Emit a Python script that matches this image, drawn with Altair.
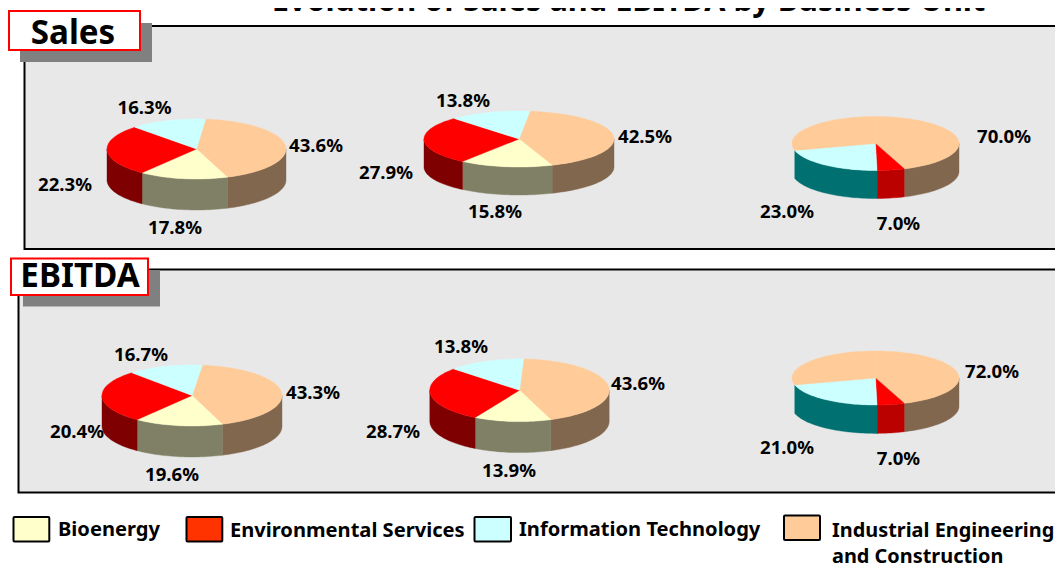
import math
import altair as alt
import pandas as pd

FONT = "Noto Sans"
OFF = 8  # page margin

units = ["Bioenergy", "Environmental Services", "Information Technology", "Industrial Engineering"]

# Shares as the slices are drawn in the picture, clockwise from each pie's start
sales_a = [42.8, 16.0, 27.5, 13.7]
sales_b = [42.5, 15.8, 27.9, 13.8]
sales_c = [44.4, 0.0, 5.3, 21.2, 29.1]
ebitda_a = [42.7, 15.9, 27.9, 13.5]
ebitda_b = [43.6, 13.9, 28.7, 13.8]
ebitda_c = [44.4, 0.0, 5.3, 21.2, 29.1]

top_colors = ["#FFCC99", "#FFFFCC", "#FF0000", "#CCFFFF", "#FFCC99"]
wall_colors = ["#82674F", "#808066", "#7E0000", "#007070", None]
wall_colors_c = ["#82674F", "#808066", "#BB0000", "#007070", None]

# name, shares, cx, cy, rx, ry, depth, start angle, wall colours
pies = [
    ("s1", sales_a, 196.5, 149, 89.5, 30, 31, 5.8, wall_colors),
    ("s2", sales_b, 519, 139, 95, 28, 28, 6.6, wall_colors),
    ("s3", sales_c, 875.5, 143.5, 83.5, 27, 28, 0, wall_colors_c),
    ("e1", ebitda_a, 192, 395.5, 90, 30.5, 31, 6.6, wall_colors),
    ("e2", ebitda_b, 519.5, 390.3, 89.7, 31.3, 31, 2.6, wall_colors),
    ("e3", ebitda_c, 875.5, 378, 83.5, 27, 28.4, 0, wall_colors_c),
]

label_text = ["16.3%", "43.6%", "22.3%", "17.8%", "13.8%", "42.5%", "27.9%", "15.8%",
              "70.0%", "23.0%", "7.0%", "16.7%", "43.3%", "20.4%", "19.6%", "13.8%",
              "43.6%", "28.7%", "13.9%", "72.0%", "21.0%", "7.0%"]
label_x = [144.5, 316, 65, 175, 463, 645, 386, 495, 1004, 787, 898.5,
           141, 313, 77, 172, 461, 638, 393, 509, 992, 787, 898.5]
label_y = [108, 146, 185, 228, 101, 137, 173, 212, 137, 212, 224,
           355, 393, 432, 475, 347, 384, 431.5, 471, 372, 448, 459]


def pt(t, rx, ry, dy=0.0):
    r = math.radians(t)
    return rx * math.sin(r), -ry * math.cos(r) + dy


def arc(a, b, rx, ry, dy=0.0):
    n = max(2, int(abs(b - a) / 2) + 1)
    return [pt(a + (b - a) * i / n, rx, ry, dy) for i in range(n + 1)]


def path(points):
    return "M" + "L".join(f"{x:.2f},{y:.2f}" for x, y in points) + "Z"


rows = []
for name, shares, cx, cy, rx, ry, depth, start, walls in pies:
    walls_rows, top_rows = [], []
    a = start
    for share, top, wall in zip(shares, top_colors, walls):
        b = a + share * 3.6
        if share > 0:
            top_rows.append(dict(x=cx, y=cy, color=top,
                                 d=path([(0, 0)] + arc(a, b, rx, ry))))
            lo, hi = max(a, 90), min(b, 270)
            if wall and lo < hi:
                walls_rows.append(dict(x=cx, y=cy, color=wall,
                                       d=path(arc(lo, hi, rx, ry) + arc(hi, lo, rx, ry, depth))))
        a = b
    rows += walls_rows + top_rows
slices = pd.DataFrame(rows)
slices["i"] = range(len(slices))

panels = pd.DataFrame(dict(x=[24.5, 18.5], x2=[1100, 1100], y=[26, 269.5], y2=[249, 492.5]))
shadows = pd.DataFrame(dict(x=[20, 23], x2=[152, 160], y=[23, 270], y2=[62, 306.5]))
tags = pd.DataFrame(dict(x=[9, 11], x2=[140, 148], y=[11, 258.5], y2=[50, 295]))
tag_text = pd.DataFrame(dict(t=["Sales", "EBITDA"], x=[73, 80], y=[33.5, 277]))
swatches = pd.DataFrame(dict(x=[13.5, 186.5, 474.5, 784], x2=[49.3, 222.3, 511, 820],
                             y=[517, 517, 517, 515.5], y2=[541.5, 541.5, 541.5, 540],
                             c=["#FFFFCC", "#FF3300", "#CCFFFF", "#FFCC99"]))
legend_text = pd.DataFrame(dict(t=units[:3] + ["Industrial Engineering", "and Construction"],
                                x=[58, 230, 519, 832, 832], y=[530, 530.5, 530, 530.5, 556.5],
                                fs=[20.1, 20.1, 20.1, 19.9, 19.9]))
labels = pd.DataFrame(dict(t=label_text, x=label_x, y=label_y))
title_df = pd.DataFrame(dict(t=["Evolution of Sales and EBITDA by Business Unit"], x=[628.5], y=[11]))

for df in (slices, panels, shadows, tags, swatches, tag_text, legend_text, labels, title_df):
    for c in ("x", "x2", "y", "y2"):
        if c in df:
            df[c] = df[c] - OFF


def X(f="x"):
    return alt.X(f"{f}:Q", scale=None, axis=None)


def Y(f="y"):
    return alt.Y(f"{f}:Q", scale=None, axis=None)


def rect(df, **kw):
    return alt.Chart(df).mark_rect(**kw).encode(x=X(), x2="x2:Q", y=Y(), y2="y2:Q")


panel_layer = rect(panels, fill="#E8E8E8", stroke="#000000", strokeWidth=2)
shadow_layer = rect(shadows, fill="#808080")
tag_layer = rect(tags, fill="#FFFFFF", stroke="#FF0000", strokeWidth=2)
tag_labels = alt.Chart(tag_text).mark_text(font=FONT, fontSize=33.2, fontWeight="bold", color="#000000").encode(
    x=X(), y=Y(), text="t:N")
title_layer = alt.Chart(title_df).mark_text(font=FONT, fontSize=30.7, fontWeight="bold", color="#000000",
                                            baseline="alphabetic").encode(x=X(), y=Y(), text="t:N")
pie_layer = alt.Chart(slices).mark_point(filled=True, opacity=1, strokeWidth=0.4).encode(
    x=X(), y=Y(),
    shape=alt.Shape("d:N", scale=None, legend=None),
    size=alt.value(4),
    fill=alt.Fill("color:N", scale=None, legend=None),
    stroke=alt.Stroke("color:N", scale=None, legend=None),
    order=alt.Order("i:Q"),
)
label_layer = alt.Chart(labels).mark_text(font=FONT, fontSize=18.6, fontWeight="bold", color="#000000").encode(
    x=X(), y=Y(), text="t:N")
swatch_layer = alt.Chart(swatches).mark_rect(stroke="#000000", strokeWidth=2, cornerRadius=1).encode(
    x=X(), x2="x2:Q", y=Y(), y2="y2:Q", fill=alt.Fill("c:N", scale=None, legend=None))
legend_layer = alt.Chart(legend_text).mark_text(font=FONT, fontWeight="bold", color="#000000",
                                                align="left").encode(
    x=X(), y=Y(), text="t:N", size=alt.Size("fs:Q", scale=None, legend=None))

chart = alt.layer(title_layer, panel_layer, shadow_layer, tag_layer, tag_labels, pie_layer,
                  label_layer, swatch_layer, legend_layer).properties(
    width=1047, height=557, padding=0, autosize=alt.AutoSizeParams(type="none")
).configure_view(stroke=None)

chart.save("out.html", embed_options={"renderer": "svg", "actions": False})
